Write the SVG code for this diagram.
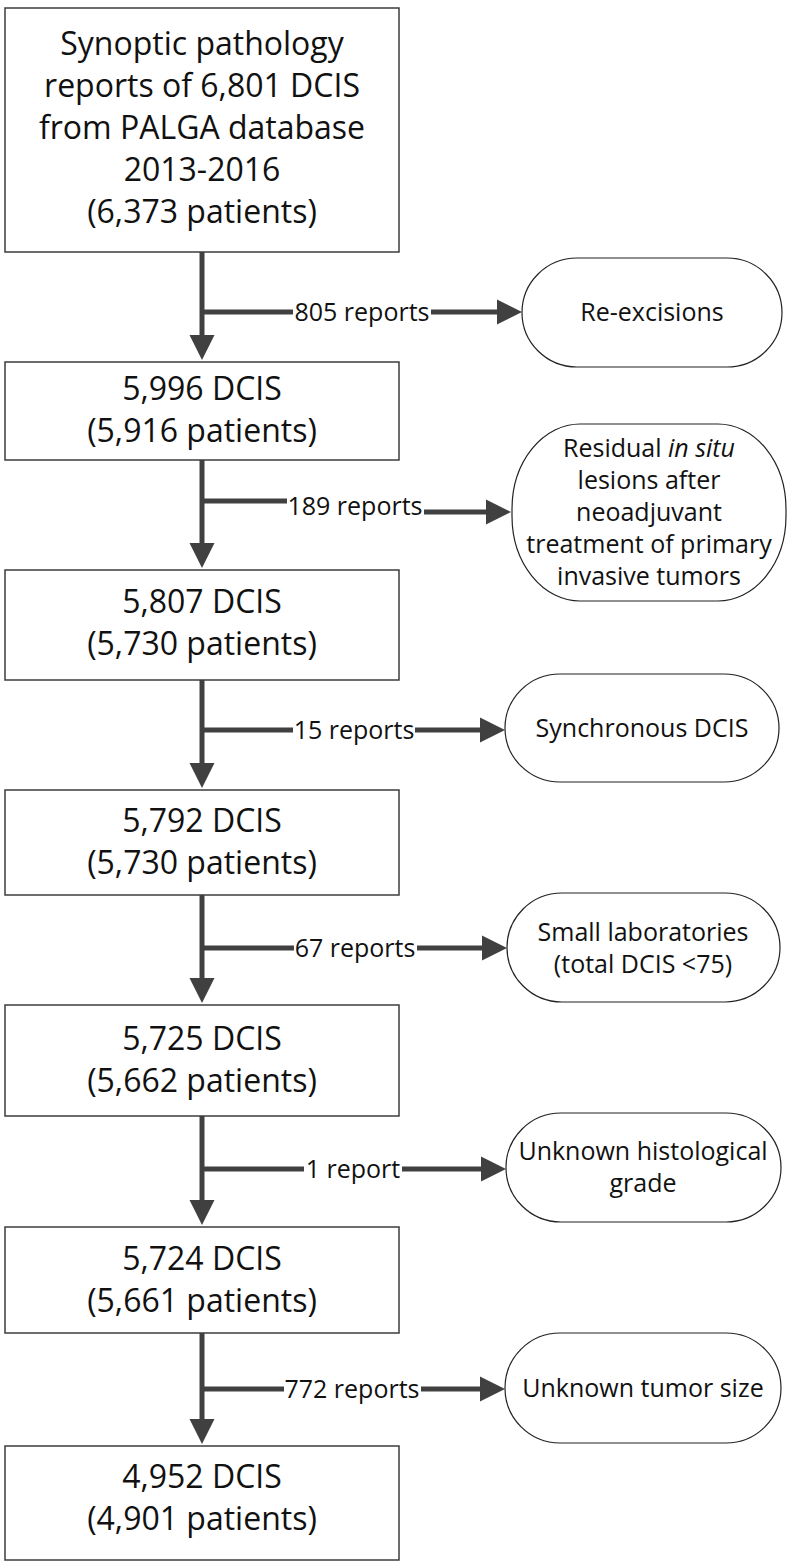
<svg xmlns="http://www.w3.org/2000/svg" width="796" height="1568" viewBox="0 0 796 1568">
<style>
.box{fill:#fff;stroke:#3c3c3c;stroke-width:1.5}
.term{fill:#fff;stroke:#222;stroke-width:1.2}
.bt{font-family:"Open Sans","Liberation Sans",sans-serif;font-size:32px;fill:#111;text-anchor:middle}
.tt{font-family:"Open Sans","Liberation Sans",sans-serif;font-size:25px;fill:#111;text-anchor:middle}
.lb{font-family:"Open Sans","Liberation Sans",sans-serif;font-size:25px;fill:#111;text-anchor:middle}
.cn{fill:none;stroke:#404040;stroke-width:5}
</style>
<defs>
<marker id="ah" markerUnits="userSpaceOnUse" markerWidth="26" markerHeight="26" viewBox="0 -13 26 26" refX="0" refY="0" orient="auto">
<path d="M0,-12.5 L25,0 L0,12.5 Z" fill="#404040"/>
</marker>
</defs>
<rect width="796" height="1568" fill="#fff"/>

<g id="connectors">
<line class="cn" x1="202" y1="252" x2="202" y2="335" marker-end="url(#ah)"/>
<line class="cn" x1="202" y1="460" x2="202" y2="543" marker-end="url(#ah)"/>
<line class="cn" x1="202" y1="680" x2="202" y2="763" marker-end="url(#ah)"/>
<line class="cn" x1="202" y1="895" x2="202" y2="978" marker-end="url(#ah)"/>
<line class="cn" x1="202" y1="1116" x2="202" y2="1200" marker-end="url(#ah)"/>
<line class="cn" x1="202" y1="1333" x2="202" y2="1419" marker-end="url(#ah)"/>

<line class="cn" x1="202" y1="312" x2="293" y2="312"/>
<line class="cn" x1="431" y1="312" x2="497" y2="312" marker-end="url(#ah)"/>
<text class="lb" x="362" y="321">805 reports</text>

<line class="cn" x1="202" y1="501" x2="287" y2="501"/>
<line class="cn" x1="424" y1="512" x2="486" y2="512" marker-end="url(#ah)"/>
<text class="lb" x="355" y="515">189 reports</text>

<line class="cn" x1="202" y1="730" x2="293" y2="730"/>
<line class="cn" x1="415" y1="730" x2="480" y2="730" marker-end="url(#ah)"/>
<text class="lb" x="354" y="739">15 reports</text>

<line class="cn" x1="202" y1="948" x2="294" y2="948"/>
<line class="cn" x1="417" y1="948" x2="482" y2="948" marker-end="url(#ah)"/>
<text class="lb" x="355" y="957">67 reports</text>

<line class="cn" x1="202" y1="1169" x2="304" y2="1169"/>
<line class="cn" x1="402" y1="1169" x2="481" y2="1169" marker-end="url(#ah)"/>
<text class="lb" x="353" y="1178">1 report</text>

<line class="cn" x1="202" y1="1389" x2="284" y2="1389"/>
<line class="cn" x1="421" y1="1389" x2="480" y2="1389" marker-end="url(#ah)"/>
<text class="lb" x="352" y="1398">772 reports</text>
</g>

<g id="n1">
<rect class="box" x="5" y="8" width="394" height="244"/>
<text class="bt" x="202" y="55">Synoptic pathology</text>
<text class="bt" x="202" y="97">reports of 6,801 DCIS</text>
<text class="bt" x="202" y="139">from PALGA database</text>
<text class="bt" x="202" y="181">2013-2016</text>
<text class="bt" x="202" y="223">(6,373 patients)</text>
</g>
<g id="n2">
<rect class="box" x="5" y="362" width="394" height="98"/>
<text class="bt" x="202" y="400">5,996 DCIS</text>
<text class="bt" x="202" y="442">(5,916 patients)</text>
</g>
<g id="n3">
<rect class="box" x="5" y="570" width="394" height="110"/>
<text class="bt" x="202" y="613">5,807 DCIS</text>
<text class="bt" x="202" y="655">(5,730 patients)</text>
</g>
<g id="n4">
<rect class="box" x="5" y="790" width="394" height="105"/>
<text class="bt" x="202" y="832">5,792 DCIS</text>
<text class="bt" x="202" y="874">(5,730 patients)</text>
</g>
<g id="n5">
<rect class="box" x="5" y="1005" width="394" height="111"/>
<text class="bt" x="202" y="1050">5,725 DCIS</text>
<text class="bt" x="202" y="1092">(5,662 patients)</text>
</g>
<g id="n6">
<rect class="box" x="5" y="1227" width="394" height="106"/>
<text class="bt" x="202" y="1270">5,724 DCIS</text>
<text class="bt" x="202" y="1312">(5,661 patients)</text>
</g>
<g id="n7">
<rect class="box" x="5" y="1446" width="394" height="114"/>
<text class="bt" x="202" y="1488">4,952 DCIS</text>
<text class="bt" x="202" y="1530">(4,901 patients)</text>
</g>

<g id="t1">
<rect class="term" x="522" y="258" width="260" height="109" rx="55" ry="54.5"/>
<text class="tt" x="652" y="321">Re-excisions</text>
</g>
<g id="t2">
<rect class="term" x="512" y="424" width="274" height="177" rx="68" ry="85"/>
<text class="tt" x="649" y="457">Residual <tspan font-style="italic">in situ</tspan></text>
<text class="tt" x="649" y="489">lesions after</text>
<text class="tt" x="649" y="521">neoadjuvant</text>
<text class="tt" x="649" y="553">treatment of primary</text>
<text class="tt" x="649" y="585">invasive tumors</text>
</g>
<g id="t3">
<rect class="term" x="505" y="674" width="274" height="108" rx="55" ry="54"/>
<text class="tt" x="642" y="737">Synchronous DCIS</text>
</g>
<g id="t4">
<rect class="term" x="507" y="893" width="273" height="109" rx="55" ry="54.5"/>
<text class="tt" x="643" y="941">Small laboratories</text>
<text class="tt" x="643" y="973">(total DCIS &lt;75)</text>
</g>
<g id="t5">
<rect class="term" x="506" y="1113" width="275" height="109" rx="55" ry="54.5"/>
<text class="tt" x="643" y="1160">Unknown histological</text>
<text class="tt" x="643" y="1192">grade</text>
</g>
<g id="t6">
<rect class="term" x="505" y="1333" width="276" height="110" rx="55" ry="55"/>
<text class="tt" x="643" y="1397">Unknown tumor size</text>
</g>
</svg>
